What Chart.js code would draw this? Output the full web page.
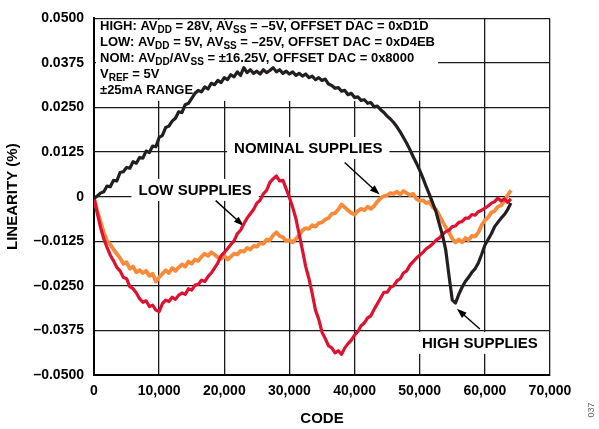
<!DOCTYPE html>
<html>
<head>
<meta charset="utf-8">
<script src="https://cdn.jsdelivr.net/npm/chart.js@4/dist/chart.umd.min.js"></script>
<style>
  body { margin: 0; background: #fff; }
  canvas { display: block; }
</style>
</head>
<body>
<canvas id="linChart" width="599" height="429"></canvas>
<script>
// Codes sampled every 500 LSB (10 per row = 5000 codes)
const codes = [
  0, 500, 1000, 1500, 2000, 2500, 3000, 3500, 4000, 4500,
  5000, 5500, 6000, 6500, 7000, 7500, 8000, 8500, 9000, 9500,
  10000, 10500, 11000, 11500, 12000, 12500, 13000, 13500, 14000, 14500,
  15000, 15500, 16000, 16500, 17000, 17500, 18000, 18500, 19000, 19500,
  20000, 20500, 21000, 21500, 22000, 22500, 23000, 23500, 24000, 24500,
  25000, 25500, 26000, 26500, 27000, 27500, 28000, 28500, 29000, 29500,
  30000, 30500, 31000, 31500, 32000, 32500, 33000, 33500, 34000, 34500,
  35000, 35500, 36000, 36500, 37000, 37500, 38000, 38500, 39000, 39500,
  40000, 40500, 41000, 41500, 42000, 42500, 43000, 43500, 44000, 44500,
  45000, 45500, 46000, 46500, 47000, 47500, 48000, 48500, 49000, 49500,
  50000, 50500, 51000, 51500, 52000, 52500, 53000, 53500, 54000, 54500,
  55000, 55500, 56000, 56500, 57000, 57500, 58000, 58500, 59000, 59500,
  60000, 60500, 61000, 61500, 62000, 62500, 63000, 63500, 64000
];

// linearity (%)
const highSupplies = [
  -0.0005, 0.0002, 0.0010, 0.0014, 0.0030, 0.0028, 0.0046, 0.0044, 0.0068, 0.0070,
  0.0082, 0.0080, 0.0098, 0.0094, 0.0110, 0.0108, 0.0128, 0.0124, 0.0142, 0.0140,
  0.0166, 0.0172, 0.0194, 0.0198, 0.0212, 0.0220, 0.0238, 0.0236, 0.0258, 0.0262,
  0.0276, 0.0290, 0.0298, 0.0294, 0.0308, 0.0302, 0.0318, 0.0314, 0.0326, 0.0320,
  0.0334, 0.0328, 0.0342, 0.0336, 0.0350, 0.0340, 0.0362, 0.0348, 0.0356, 0.0346,
  0.0352, 0.0344, 0.0356, 0.0348, 0.0354, 0.0362, 0.0350, 0.0356, 0.0346, 0.0352,
  0.0344, 0.0350, 0.0340, 0.0346, 0.0338, 0.0344, 0.0334, 0.0338, 0.0328, 0.0334,
  0.0326, 0.0330, 0.0316, 0.0312, 0.0304, 0.0306, 0.0296, 0.0298, 0.0286, 0.0290,
  0.0278, 0.0280, 0.0270, 0.0272, 0.0262, 0.0264, 0.0252, 0.0254, 0.0244, 0.0236,
  0.0226, 0.0218, 0.0208, 0.0196, 0.0182, 0.0166, 0.0150, 0.0132, 0.0112, 0.0094,
  0.0074, 0.0052, 0.0028, 0.0006, -0.0018, -0.0042, -0.0076, -0.0108, -0.0150, -0.0222,
  -0.0290, -0.0298, -0.0274, -0.0254, -0.0238, -0.0226, -0.0212, -0.0202, -0.0186, -0.0162,
  -0.0136, -0.0120, -0.0104, -0.0084, -0.0072, -0.0060, -0.0050, -0.0036, -0.0018
];

const lowSupplies = [
  -0.0003, -0.0046, -0.0086, -0.0118, -0.0142, -0.0164, -0.0180, -0.0198, -0.0208, -0.0226,
  -0.0230, -0.0252, -0.0258, -0.0270, -0.0286, -0.0296, -0.0292, -0.0308, -0.0304, -0.0318,
  -0.0322, -0.0300, -0.0290, -0.0294, -0.0282, -0.0288, -0.0276, -0.0270, -0.0274, -0.0258,
  -0.0262, -0.0248, -0.0246, -0.0234, -0.0238, -0.0224, -0.0214, -0.0200, -0.0186, -0.0166,
  -0.0156, -0.0146, -0.0134, -0.0124, -0.0104, -0.0094, -0.0076, -0.0060, -0.0048, -0.0036,
  -0.0018, -0.0010, 0.0008, 0.0018, 0.0040, 0.0050, 0.0058, 0.0044, 0.0046, 0.0022,
  -0.0002, -0.0030, -0.0062, -0.0106, -0.0150, -0.0196, -0.0230, -0.0272, -0.0318, -0.0344,
  -0.0380, -0.0398, -0.0418, -0.0424, -0.0438, -0.0432, -0.0442, -0.0424, -0.0412, -0.0402,
  -0.0388, -0.0378, -0.0362, -0.0354, -0.0340, -0.0334, -0.0316, -0.0300, -0.0284, -0.0268,
  -0.0268, -0.0254, -0.0250, -0.0236, -0.0230, -0.0214, -0.0208, -0.0192, -0.0182, -0.0172,
  -0.0164, -0.0156, -0.0146, -0.0140, -0.0132, -0.0122, -0.0116, -0.0106, -0.0098, -0.0094,
  -0.0084, -0.0082, -0.0072, -0.0070, -0.0060, -0.0060, -0.0050, -0.0052, -0.0042, -0.0038,
  -0.0032, -0.0026, -0.0018, -0.0014, -0.0004, -0.0012, -0.0006, -0.0016, -0.0006
];

const nominalSupplies = [
  -0.0003, -0.0040, -0.0070, -0.0100, -0.0124, -0.0134, -0.0148, -0.0160, -0.0172, -0.0188,
  -0.0184, -0.0202, -0.0196, -0.0212, -0.0206, -0.0214, -0.0208, -0.0222, -0.0216, -0.0238,
  -0.0226, -0.0216, -0.0206, -0.0214, -0.0200, -0.0208, -0.0198, -0.0190, -0.0196, -0.0182,
  -0.0188, -0.0176, -0.0180, -0.0168, -0.0160, -0.0166, -0.0156, -0.0162, -0.0170, -0.0174,
  -0.0166, -0.0176, -0.0168, -0.0160, -0.0162, -0.0152, -0.0154, -0.0144, -0.0148, -0.0138,
  -0.0140, -0.0130, -0.0132, -0.0120, -0.0122, -0.0108, -0.0100, -0.0110, -0.0114, -0.0124,
  -0.0122, -0.0128, -0.0118, -0.0108, -0.0094, -0.0088, -0.0090, -0.0080, -0.0084, -0.0074,
  -0.0072, -0.0064, -0.0060, -0.0048, -0.0046, -0.0036, -0.0022, -0.0030, -0.0038, -0.0046,
  -0.0050, -0.0040, -0.0034, -0.0038, -0.0028, -0.0034, -0.0026, -0.0014, -0.0004, 0.0002,
  0.0004, 0.0010, 0.0008, 0.0014, 0.0006, 0.0016, 0.0010, 0.0004, 0.0008, -0.0006,
  -0.0012, -0.0010, -0.0018, -0.0014, -0.0030, -0.0036, -0.0052, -0.0070, -0.0086, -0.0100,
  -0.0118, -0.0128, -0.0120, -0.0128, -0.0116, -0.0122, -0.0110, -0.0112, -0.0100, -0.0080,
  -0.0066, -0.0058, -0.0044, -0.0040, -0.0028, -0.0024, -0.0012, 0.0004, 0.0018
];

const xTickValues = [0, 10000, 20000, 30000, 40000, 50000, 60000, 70000];
const xTickLabels = ["0", "10,000", "20,000", "30,000", "40,000", "50,000", "60,000", "70,000"];
const yTickValues = [-0.05, -0.0375, -0.025, -0.0125, 0, 0.0125, 0.025, 0.0375, 0.05];
const yTickLabels = ["\u20130.0500", "\u20130.0375", "\u20130.0250", "\u20130.0125", "0", "0.0125", "0.0250", "0.0375", "0.0500"];

// note block, [text, isSubscript]
const noteLines = [
  [["HIGH: AV"], ["DD", 1], [" = 28V, AV"], ["SS", 1], [" = \u20135V, OFFSET DAC = 0xD1D"]],
  [["LOW: AV"], ["DD", 1], [" = 5V, AV"], ["SS", 1], [" = \u201325V, OFFSET DAC = 0xD4EB"]],
  [["NOM: AV"], ["DD", 1], ["/AV"], ["SS", 1], [" = \u00b116.25V, OFFSET DAC = 0x8000"]],
  [["V"], ["REF", 1], [" = 5V"]],
  [["\u00b125mA RANGE"]]
];

// callouts: label at (x,y), arrow from tail to tip, all in data units
const callouts = [
  { text: "NOMINAL SUPPLIES", x: 32890, y: 0.01365, tail: [38480, 0.0096], tip: [43850, 0.0006] },
  { text: "LOW SUPPLIES", x: 15530, y: 0.0019, tail: [18680, -0.0011], tip: [22980, -0.0082] },
  { text: "HIGH SUPPLIES", x: 59230, y: -0.0410, tail: [59230, -0.0371], tip: [55700, -0.0314] }
];

const FONT = "'Liberation Sans', Arial, Helvetica, sans-serif";

function toPoints(vals) {
  return codes.map((c, i) => ({ x: c, y: vals[i] }));
}

function drawArrow(ctx, x1, y1, x2, y2) {
  const ang = Math.atan2(y2 - y1, x2 - x1);
  const len = 10, half = 3.5;
  ctx.strokeStyle = "#000";
  ctx.fillStyle = "#000";
  ctx.lineWidth = 1.4;
  ctx.beginPath();
  ctx.moveTo(x1, y1);
  ctx.lineTo(x2 - Math.cos(ang) * len * 0.8, y2 - Math.sin(ang) * len * 0.8);
  ctx.stroke();
  ctx.beginPath();
  ctx.moveTo(x2, y2);
  ctx.lineTo(x2 - Math.cos(ang) * len - Math.sin(ang) * half, y2 - Math.sin(ang) * len + Math.cos(ang) * half);
  ctx.lineTo(x2 - Math.cos(ang) * len + Math.sin(ang) * half, y2 - Math.sin(ang) * len - Math.cos(ang) * half);
  ctx.closePath();
  ctx.fill();
}

const notesPlugin = {
  id: "notes",
  beforeDatasetsDraw(chart) {
    const { ctx, chartArea, scales } = chart;
    const xs = scales.x, ys = scales.y;
    ctx.save();

    // note box in the top left corner
    ctx.fillStyle = "#fff";
    ctx.fillRect(chartArea.left + 2, chartArea.top + 1.5, 342, 81);
    ctx.fillStyle = "#000";
    ctx.textBaseline = "middle";
    noteLines.forEach((line, i) => {
      let x = chartArea.left + 6;
      const y = chartArea.top + 8 + i * 16;
      line.forEach(seg => {
        ctx.font = seg[1] ? "bold 10px " + FONT : "bold 13px " + FONT;
        ctx.fillText(seg[0], x, seg[1] ? y + 4 : y);
        x += ctx.measureText(seg[0]).width;
      });
    });

    // callout labels and arrows
    ctx.font = "bold 15px " + FONT;
    ctx.textAlign = "center";
    callouts.forEach(c => {
      const px = xs.getPixelForValue(c.x), py = ys.getPixelForValue(c.y);
      const w = ctx.measureText(c.text).width + 14;
      ctx.fillStyle = "#fff";
      ctx.fillRect(px - w / 2, py - 11, w, 22);
      ctx.fillStyle = "#000";
      ctx.fillText(c.text, px, py + 1);
      drawArrow(ctx,
        xs.getPixelForValue(c.tail[0]), ys.getPixelForValue(c.tail[1]),
        xs.getPixelForValue(c.tip[0]), ys.getPixelForValue(c.tip[1]));
    });

    ctx.restore();
  },
  afterDraw(chart) {
    const ctx = chart.ctx;
    ctx.save();
    ctx.translate(592, 410);
    ctx.rotate(-Math.PI / 2);
    ctx.font = "9px " + FONT;
    ctx.fillStyle = "#666";
    ctx.textAlign = "center";
    ctx.textBaseline = "middle";
    ctx.fillText("037", 0, 0);
    ctx.restore();
  }
};

const ctx = document.getElementById("linChart").getContext("2d");
const linChart = new Chart(ctx, {
  type: "line",
  data: {
    datasets: [
      { label: "HIGH SUPPLIES", data: toPoints(highSupplies), borderColor: "#231f20", borderWidth: 3.2, order: 0 },
      { label: "LOW SUPPLIES", data: toPoints(lowSupplies), borderColor: "#e0102f", borderWidth: 3.2, order: 1 },
      { label: "NOMINAL SUPPLIES", data: toPoints(nominalSupplies), borderColor: "#f88a3a", borderWidth: 3.8, order: 2 }
    ]
  },
  options: {
    responsive: false,
    animation: false,
    layout: { padding: { top: 10, right: 49, left: 0, bottom: 0 } },
    elements: { point: { radius: 0 }, line: { tension: 0, borderJoinStyle: "round", fill: false } },
    plugins: { legend: { display: false }, tooltip: { enabled: false } },
    scales: {
      x: {
        type: "linear", min: 0, max: 70000,
        afterBuildTicks: s => { s.ticks = xTickValues.map(v => ({ value: v })); },
        afterFit: s => { s.height = 54; },
        ticks: {
          color: "#000", padding: 8, maxRotation: 0, autoSkip: false,
          font: { family: FONT, size: 14, weight: "bold" },
          callback: (v, i) => xTickLabels[i]
        },
        grid: { color: "#1a1a1a", lineWidth: 1.3, drawTicks: false },
        border: { color: "#000", width: 2 },
        title: { display: true, text: "CODE", color: "#000", padding: { top: 12, bottom: 1 }, font: { family: FONT, size: 15, weight: "bold" } }
      },
      y: {
        min: -0.05, max: 0.05,
        afterBuildTicks: s => { s.ticks = yTickValues.map(v => ({ value: v })); },
        afterFit: s => { s.width = 94; },
        ticks: {
          color: "#000", padding: 10, autoSkip: false,
          font: { family: FONT, size: 14, weight: "bold" },
          callback: (v, i) => yTickLabels[i]
        },
        grid: { color: "#1a1a1a", lineWidth: 1.3, drawTicks: false },
        border: { color: "#000", width: 2 },
        title: { display: true, text: "LINEARITY (%)", color: "#000", padding: { bottom: 0 }, font: { family: FONT, size: 15, weight: "bold" } }
      }
    }
  },
  plugins: [notesPlugin]
});
</script>
</body>
</html>
